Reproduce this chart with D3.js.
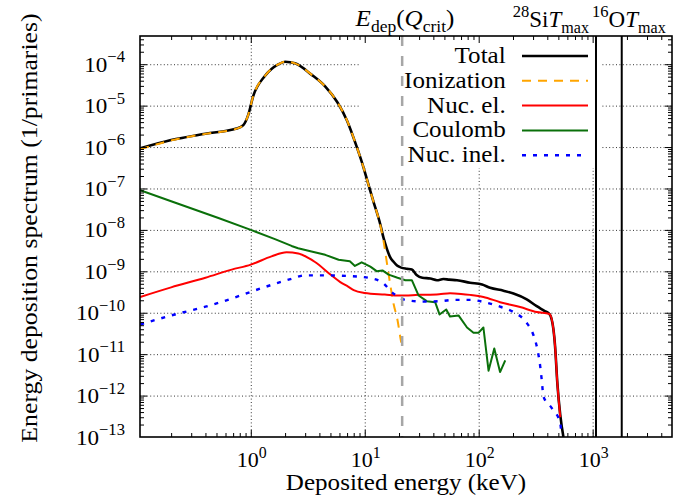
<!DOCTYPE html>
<html>
<head>
<meta charset="utf-8">
<script src="https://cdn.jsdelivr.net/npm/d3@7"></script>
<style>
  body { margin: 0; background: #fff; }
  svg text { font-family: "Liberation Serif", "DejaVu Serif", "Noto Serif", serif !important; fill: #000; }
</style>
</head>
<body>
<svg id="chart" width="680" height="498"></svg>
<script>
// ---- Energy deposition spectra: [deposited energy (keV), spectrum (1/primaries)] ----
const total = [
  [0.107, 9.3e-7], [0.2, 1.48e-6], [0.4, 2.1e-6], [0.75, 2.8e-6], [0.86, 3.4e-6],
  [0.95, 6.0e-6], [1.05, 1.7e-5], [1.33, 5.2e-5], [1.74, 9.9e-5], [2.0, 1.15e-4],
  [2.44, 1.05e-4], [3.41, 5.6e-5], [4.47, 2.96e-5], [5.77, 1.19e-5], [6.98, 4.4e-6],
  [8.54, 9.8e-7], [9.76, 3.2e-7], [10.7, 1.32e-7], [11.9, 4.9e-8], [13.7, 1.35e-8],
  [14.6, 6.5e-9], [15.7, 3.4e-9], [16.7, 2.2e-9], [17.9, 1.7e-9], [19.2, 1.38e-9],
  [20.9, 1.23e-9], [23.4, 1.15e-9], [25.9, 1.1e-9], [28.5, 8.2e-10], [32, 7.0e-10],
  [37.6, 6.7e-10], [43, 6.1e-10], [49, 6.5e-10], [55, 6.3e-10], [64.5, 6.1e-10],
  [84, 5.3e-10], [107, 4.8e-10], [126, 4.0e-10], [165, 3.4e-10], [202, 2.9e-10],
  [264, 2.1e-10], [323, 1.44e-10], [380, 1.1e-10], [418, 9.3e-11], [453, 3.9e-11],
  [468, 1.55e-11], [490, 2.0e-12], [519, 3.5e-13], [554, 1.0e-13]
];

const ionization = [
  [0.107, 8.8e-7], [0.2, 1.45e-6], [0.4, 2.08e-6], [0.75, 2.78e-6], [0.86, 3.4e-6],
  [0.95, 6.0e-6], [1.05, 1.7e-5], [1.33, 5.2e-5], [1.74, 9.9e-5], [2.0, 1.15e-4],
  [2.44, 1.05e-4], [3.41, 5.6e-5], [4.47, 2.96e-5], [5.77, 1.19e-5], [6.98, 4.4e-6],
  [8.54, 9.8e-7], [9.76, 3.2e-7], [10.7, 1.32e-7], [11.9, 4.9e-8], [13.7, 1.3e-8],
  [14.6, 5.5e-9], [15.7, 1.5e-9], [16.7, 5.0e-10], [17.9, 1.65e-10], [19.4, 6.6e-11],
  [20.5, 2.6e-11], [20.9, 1.9e-11]
];

const nucElastic = [
  [0.107, 2.4e-10], [0.2, 4.1e-10], [0.4, 7.0e-10], [0.68, 1.1e-9], [1.0, 1.45e-9],
  [1.52, 2.3e-9], [2.06, 2.9e-9], [2.61, 2.7e-9], [3.66, 1.68e-9], [5.1, 8.0e-10],
  [6.1, 5.5e-10], [7.2, 4.2e-10], [8.0, 3.5e-10], [10, 3.0e-10], [15, 2.75e-10],
  [20, 2.6e-10], [30, 2.7e-10], [45, 2.8e-10], [56, 2.95e-10], [70, 2.85e-10],
  [84, 2.7e-10], [110, 2.4e-10], [154, 1.8e-10], [231, 1.37e-10], [324, 1.04e-10],
  [418, 9.3e-11], [453, 3.9e-11], [468, 1.55e-11], [490, 2.0e-12], [520, 3.0e-13]
];

const coulomb = [
  [0.107, 9.1e-8], [0.2, 4.9e-8], [0.52, 1.94e-8], [1.0, 1.0e-8], [1.63, 6.0e-9],
  [2.28, 4.1e-9], [2.6, 3.6e-9], [3.41, 3.0e-9], [4.5, 2.5e-9], [5.9, 1.9e-9],
  [7.4, 1.75e-9], [8.2, 1.35e-9], [9.4, 1.65e-9], [11.2, 1.3e-9], [12.8, 1.0e-9],
  [14.3, 1.05e-9], [16.2, 8.3e-10], [19.4, 7.0e-10], [22.7, 6.1e-10], [25.9, 6.1e-10],
  [29.7, 2.6e-10], [35, 1.9e-10], [41.5, 1.8e-10], [45.3, 9.1e-11], [51.9, 1.2e-10],
  [56, 8.1e-11], [66.5, 8.6e-11], [79, 4.4e-11], [90, 3.3e-11], [100, 3.3e-11],
  [110, 4.4e-11], [122, 4.0e-12], [137, 1.37e-11], [154, 3.7e-12], [171, 7.1e-12]
];

const nucInelastic = [
  [0.107, 5.2e-11], [0.2, 8.6e-11], [0.4, 1.4e-10], [0.68, 2.2e-10], [1.0, 3.2e-10],
  [1.63, 5.0e-10], [2.28, 6.6e-10], [3.0, 8.0e-10], [4.47, 8.0e-10], [7.2, 7.7e-10],
  [10.7, 7.0e-10], [14.1, 5.5e-10], [17.9, 2.9e-10], [23.4, 2.0e-10], [32.8, 1.86e-10],
  [46, 1.9e-10], [62, 2.05e-10], [84, 2.05e-10], [114, 1.78e-10], [154, 1.4e-10],
  [202, 1.04e-10], [261, 5.9e-11], [302, 2.9e-11], [328, 1.28e-11], [346, 5.3e-12],
  [358, 2.3e-12], [370, 9.5e-13], [438, 5.0e-13], [519, 2.2e-13], [530, 1.3e-13]
];

// reference energies (keV) marked by vertical lines
const eDepQcrit = 21.3;
const tMaxSi28 = 1070;
const tMaxO16 = 1800;

// axis settings
const xDomain = [0.1066, 4970];
const yDomain = [1e-13, 4.8e-4];
const xMajorExp = [0, 1, 2, 3];
const yMajorExp = [-13, -12, -11, -10, -9, -8, -7, -6, -5, -4];

const legendLabels = ["Total", "Ionization", "Nuc. el.", "Coulomb", "Nuc. inel."];

// ---- layout ----
const SERIF = '"Liberation Serif", "DejaVu Serif", "Noto Serif", serif';
const svg = d3.select("#chart");
const L = 140, R = 672, T = 36, B = 437;

const x = d3.scaleLog().domain(xDomain).range([L, R]);
const y = d3.scaleLog().domain(yDomain).range([B, T]);

svg.append("rect").attr("width", 680).attr("height", 498).attr("fill", "#fff");

svg.append("defs").append("clipPath").attr("id", "plotClip")
  .append("rect").attr("x", L).attr("y", T).attr("width", R - L).attr("height", B - T);

// minor tick positions (2..9 within each decade)
function minors(domain) {
  const lo = Math.floor(Math.log10(domain[0])), hi = Math.ceil(Math.log10(domain[1]));
  const out = [];
  for (let e = lo; e <= hi; e++)
    for (let k = 2; k <= 9; k++) {
      const v = k * Math.pow(10, e);
      if (v > domain[0] && v < domain[1]) out.push(v);
    }
  return out;
}
const xMajor = xMajorExp.map(e => Math.pow(10, e));
const yMajor = yMajorExp.map(e => Math.pow(10, e));
const xMinor = minors(xDomain);
const yMinor = minors(yDomain);

// ---- grid ----
const grid = svg.append("g").attr("clip-path", "url(#plotClip)");
grid.append("g").attr("transform", `translate(0,${B})`)
  .call(d3.axisBottom(x).tickValues(xMajor).tickSize(-(B - T)).tickFormat(""))
  .call(g => g.select(".domain").remove());
grid.append("g").attr("transform", `translate(${L},0)`)
  .call(d3.axisLeft(y).tickValues(yMajor.filter(v => v > yDomain[0])).tickSize(-(R - L)).tickFormat(""))
  .call(g => g.select(".domain").remove());
grid.selectAll("line").attr("stroke", "#000").attr("stroke-width", 0.8).attr("stroke-dasharray", "1,2.4");

// ---- legend background ----
svg.append("rect").attr("x", 360).attr("y", T + 1).attr("width", 242).attr("height", 131).attr("fill", "#fff");

// ---- curves ----
const smooth = d3.line().x(d => x(d[0])).y(d => y(d[1])).curve(d3.curveMonotoneX);
const jagged = d3.line().x(d => x(d[0])).y(d => y(d[1]));

const seriesStyles = [
  { data: total, gen: smooth, color: "#000000", width: 2.6, dash: null },
  { data: ionization, gen: smooth, color: "#ffa500", width: 2.0, dash: "9,7" },
  { data: nucElastic, gen: smooth, color: "#ff0000", width: 2.0, dash: null },
  { data: coulomb, gen: jagged, color: "#0a700a", width: 2.0, dash: null },
  { data: nucInelastic, gen: smooth, color: "#0000ff", width: 2.4, dash: "4,7" }
];

const curves = svg.append("g").attr("clip-path", "url(#plotClip)");
seriesStyles.forEach(s => {
  curves.append("path").attr("d", s.gen(s.data)).attr("fill", "none")
    .attr("stroke", s.color).attr("stroke-width", s.width)
    .attr("stroke-dasharray", s.dash).attr("stroke-linejoin", "round");
});

// ---- vertical marker lines ----
const marks = svg.append("g").attr("clip-path", "url(#plotClip)");
marks.append("line").attr("x1", x(eDepQcrit)).attr("x2", x(eDepQcrit)).attr("y1", T).attr("y2", B)
  .attr("stroke", "#a6a6a6").attr("stroke-width", 2.5).attr("stroke-dasharray", "10,10");
[tMaxSi28, tMaxO16].forEach(v => {
  marks.append("line").attr("x1", x(v)).attr("x2", x(v)).attr("y1", T).attr("y2", B)
    .attr("stroke", "#000").attr("stroke-width", 2);
});

// ---- text helper: serif text with italic / sub / superscript pieces ----
function richText(px, py, anchor, size, parts, sx, rotate) {
  const g = svg.append("g").attr("transform",
    `translate(${px},${py})` + (rotate ? ` rotate(${rotate})` : "") + ` scale(${sx},1)`);
  const t = g.append("text").attr("text-anchor", anchor).attr("font-size", size)
    .attr("font-family", SERIF);
  let shift = 0;
  parts.forEach(p => {
    const ts = t.append("tspan").text(p.t);
    let target = 0;
    if (p.sup) { target = -size * 0.42; ts.attr("font-size", size * 0.72); }
    if (p.sub) { target = size * 0.24; ts.attr("font-size", size * 0.7); }
    ts.attr("dy", target - shift);
    shift = target;
    if (p.i) ts.attr("font-style", "italic");
  });
  return t;
}

// ---- legend ----
const legendY0 = 56, legendDy = 24.8;
legendLabels.forEach((lab, i) => {
  const cy = legendY0 + i * legendDy;
  richText(505.7, cy + 7, "end", 23, [{ t: lab }], 1.09);
  const s = seriesStyles[i];
  svg.append("line").attr("x1", 522).attr("x2", 588).attr("y1", cy).attr("y2", cy)
    .attr("stroke", s.color).attr("stroke-width", s.width)
    .attr("stroke-dasharray", s.dash);
});

// ---- axes frame and ticks (inward on all four sides) ----
const axes = svg.append("g");
function ticks(gen, tr, vals, size) {
  axes.append("g").attr("transform", tr)
    .call(gen.tickValues(vals).tickSize(size).tickFormat(""))
    .call(g => g.select(".domain").remove())
    .selectAll("line").attr("stroke", "#000").attr("stroke-width", 1);
}
const yMajorIn = yMajor.filter(v => v > yDomain[0]);
ticks(d3.axisBottom(x), `translate(0,${B})`, xMajor, -7);
ticks(d3.axisBottom(x), `translate(0,${B})`, xMinor, -4);
ticks(d3.axisTop(x), `translate(0,${T})`, xMajor, -7);
ticks(d3.axisTop(x), `translate(0,${T})`, xMinor, -4);
ticks(d3.axisLeft(y), `translate(${L},0)`, yMajorIn, -7);
ticks(d3.axisLeft(y), `translate(${L},0)`, yMinor, -4);
ticks(d3.axisRight(y), `translate(${R},0)`, yMajorIn, -7);
ticks(d3.axisRight(y), `translate(${R},0)`, yMinor, -4);

axes.append("rect").attr("x", L).attr("y", T).attr("width", R - L).attr("height", B - T)
  .attr("fill", "none").attr("stroke", "#000").attr("stroke-width", 1.6);

// ---- tick labels ----
xMajorExp.forEach(e => {
  richText(x(Math.pow(10, e)) + 1, 467, "middle", 22, [{ t: "10" }, { t: String(e), sup: true }], 1.0);
});
yMajorExp.forEach(e => {
  richText(125, y(Math.pow(10, e)) + 7.5, "end", 22, [{ t: "10" }, { t: "\u2212" + (-e), sup: true }], 1.05);
});

// ---- axis titles ----
richText(406, 490, "middle", 23, [{ t: "Deposited energy (keV)" }], 1.09);
richText(37, 228, "middle", 23, [{ t: "Energy deposition spectrum (1/primaries)" }], 1.12, -90);

// ---- marker labels above the plot ----
richText(405, 26, "middle", 23, [
  { t: "E", i: true }, { t: "dep", sub: true }, { t: "(" },
  { t: "Q", i: true }, { t: "crit", sub: true }, { t: ")" }
], 1.09);
richText(589, 27, "end", 23, [
  { t: "28", sup: true }, { t: "Si" }, { t: "T", i: true }, { t: "max", sub: true }
], 1.0);
richText(592, 27, "start", 23, [
  { t: "16", sup: true }, { t: "O" }, { t: "T", i: true }, { t: "max", sub: true }
], 1.0);
</script>
</body>
</html>
